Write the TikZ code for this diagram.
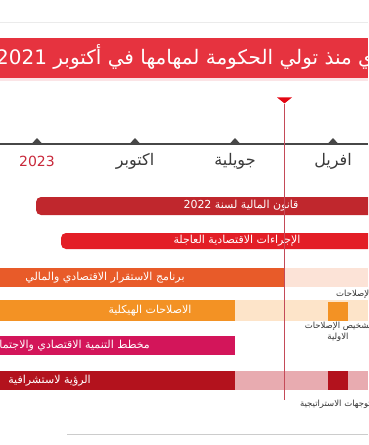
\documentclass[tikz,border=0pt]{standalone}
\usepackage{fontspec}
\setmainfont{DejaVu Sans}
\newfontfamily\arabicfont[Script=Arabic]{DejaVu Sans}
\TeXXeTstate=1
\usepackage{tikz}
\usetikzlibrary{positioning,shapes.geometric}
\definecolor{bannerred}{HTML}{E6333F}
\definecolor{bannerpink}{HTML}{FBE4E6}
\definecolor{axisgray}{HTML}{474747}
\definecolor{monthgray}{HTML}{3A3A3A}
\definecolor{yearred}{HTML}{C8283A}
\definecolor{markred}{HTML}{E30613}
\definecolor{nowline}{HTML}{C44A58}
\definecolor{finred}{HTML}{C0272D}
\definecolor{urgred}{HTML}{E31E26}
\definecolor{stabor}{HTML}{E85B29}
\definecolor{stablight}{HTML}{FCE3D7}
\definecolor{structor}{HTML}{F39224}
\definecolor{structlight}{HTML}{FDE4C9}
\definecolor{planmag}{HTML}{D3155A}
\definecolor{visionred}{HTML}{B3121D}
\definecolor{visionlight}{HTML}{E8ABB0}
\definecolor{notegray}{HTML}{333333}
\newcommand{\rtl}[1]{\beginR#1\endR}
\tikzset{
  bar/.style={fill=#1},
  barlabel/.style={font=\arabicfont\fontsize{11}{12}\selectfont,text=white,inner sep=0pt},
  month/.style={font=\arabicfont\fontsize{16}{18}\selectfont,text=monthgray,inner sep=0pt},
  note/.style={font=\arabicfont\fontsize{8.5}{11}\selectfont,text=notegray,align=center,inner sep=0pt},
  tick/.style={fill=axisgray},
  axis/.style={draw=axisgray,line width=2.4pt},
  marker/.style={draw=nowline,line width=.8pt}
}
\begin{document}
\begin{tikzpicture}[x=1pt,y=-1pt]
\useasboundingbox (0,0) rectangle (368,445);
\clip (0,0) rectangle (368,445);
% header
\draw[black!8,line width=.8pt] (0,22) -- (368,22);
\fill[bannerred] (0,38) rectangle (368,78);
\fill[bannerpink] (0,78) rectangle (368,81);
\node[font=\arabicfont\fontsize{20}{24}\selectfont,text=white,inner sep=0pt,anchor=east] (title) at (374,57)
{\rtl{ي منذ تولي الحكومة لمهامها في أكتوبر \beginL2021\endL}};
% time axis
\coordinate (axisL) at (0,144);
\coordinate (axisR) at (368,144);
\draw[axis] (axisL) -- (axisR);
\foreach \x in {37,135,235,333}
  \fill[tick] (\x-5.5,144) -- (\x,138) -- (\x+5.5,144) -- cycle;
\node[month,text=yearred,font=\fontsize{14}{16}\selectfont] (y23) at (37,161) {2023};
\node[month] (oct) at (135,161) {\rtl{اكتوبر}};
\node[month] (jul) at (235,161) {\rtl{جويلية}};
\node[month] (apr) at (333,161) {\rtl{افريل}};
% bars
\fill[bar=finred,rounded corners=5pt] (36,197) rectangle (390,215);
\node[barlabel] (fin) at (241,206) {\rtl{قانون المالية لسنة \beginL2022\endL}};
\fill[bar=urgred,rounded corners=5pt] (61,233) rectangle (390,249);
\node[barlabel] (urg) at (237,241) {\rtl{الإجراءات الاقتصادية العاجلة}};
\fill[bar=stabor] (0,268) rectangle (284,287);
\fill[bar=stablight] (284,268) rectangle (368,287);
\node[barlabel] (stab) at (105,277.5) {\rtl{برنامج الاستقرار الاقتصادي والمالي}};
\node[note,anchor=west] (refn) at (336,294) {\rtl{الإصلاحات}};
\fill[bar=structor] (0,300) rectangle (235,321);
\fill[bar=structlight] (235,300) rectangle (368,321);
\fill[bar=structor] (328,302) rectangle (348,321);
\node[barlabel] (struct) at (150,310.5) {\rtl{الاصلاحات الهيكلية}};
\node[note] (diag) at (338,332) {\rtl{تشخيص الإصلاحات}\\\rtl{الاولية}};
\fill[bar=planmag] (0,336) rectangle (235,355);
\node[barlabel,anchor=east] (plan) at (150,345.5) {\rtl{مخطط التنمية الاقتصادي والاجتماعي}};
\fill[bar=visionred] (0,371) rectangle (235,390);
\fill[bar=visionlight] (235,371) rectangle (368,390);
\fill[bar=visionred] (328,371) rectangle (348,390);
\node[barlabel,anchor=east] (vision) at (91,380.5) {\rtl{الرؤية لاستشرافية}};
\node[note] (orient) at (338,404) {\rtl{التوجهات الاستراتيجية}};
% now marker
\node[isosceles triangle,isosceles triangle stretches,shape border rotate=270,
  fill=markred,inner sep=0pt,minimum width=15pt,minimum height=6pt] (now) at (284.5,100) {};
\coordinate (nowend) at (284.5,400);
\draw[marker] (now.south) -- (nowend);
% footer
\coordinate (footL) at (67,434);
\coordinate (footR) at (368,434);
\draw[black!20,line width=.8pt] (footL) -- (footR);
\end{tikzpicture}
\end{document}
